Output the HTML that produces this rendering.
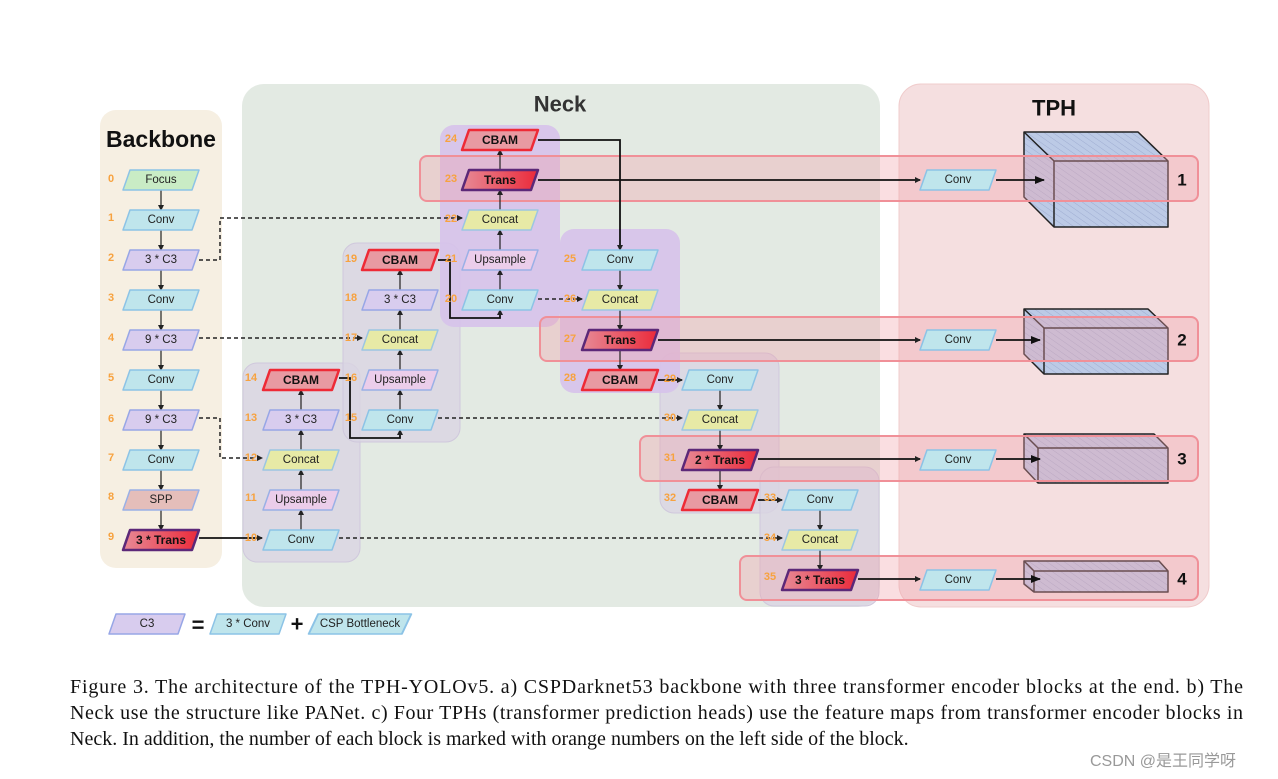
<!DOCTYPE html>
<html><head><meta charset="utf-8"><style>
html,body{margin:0;padding:0;background:#fff;width:1278px;height:779px;overflow:hidden}
svg{position:absolute;left:0;top:0}
.conv{fill:#bfe5ec;stroke:#8cc3e6;stroke-width:1.5}
.c3{fill:#d8ccee;stroke:#97a6e6;stroke-width:1.5}
.cat{fill:#e7eaa6;stroke:#9cc6e2;stroke-width:1.5}
.up{fill:#ebcdea;stroke:#9ab0e6;stroke-width:1.5}
.foc{fill:#c9ecc5;stroke:#8cc3e6;stroke-width:1.5}
.spp{fill:#e5beba;stroke:#9ab0e6;stroke-width:1.5}
.cb{fill:#e89aa2;stroke:#ee2a36;stroke-width:2.5}
.tr{fill:url(#tg);stroke:#5c2878;stroke-width:2.5}
text{font-family:"Liberation Sans",sans-serif}
.t{font-size:11.5px;fill:#222;text-anchor:middle;dominant-baseline:central}
.tb{font-size:12px;font-weight:bold;fill:#111;text-anchor:middle;dominant-baseline:central}
.n{font-size:11px;font-weight:bold;fill:#f7a23f;text-anchor:middle;dominant-baseline:central}
.ln{stroke:#222;stroke-width:1.2;fill:none}
.lt{stroke:#111;stroke-width:1.8;fill:none}
.ds{stroke:#222;stroke-width:1.5;fill:none;stroke-dasharray:4 3}
.cap{font-family:"Liberation Serif",serif;font-size:20px;fill:#111}
</style></head><body>
<svg width="1278" height="779" viewBox="0 0 1278 779">
<defs>
<polygon id="p" points="-31,-10 38,-10 31,10 -38,10" stroke-linejoin="round"/>
<linearGradient id="tg" x1="0" x2="1"><stop offset="0" stop-color="#e88a96"/><stop offset="1" stop-color="#ea2a3a"/></linearGradient>
<marker id="a" markerWidth="6" markerHeight="6" refX="5" refY="3" orient="auto" markerUnits="userSpaceOnUse"><path d="M0,0 L6,3 L0,6 z" fill="#222"/></marker>
<marker id="A" markerWidth="10" markerHeight="10" refX="9" refY="5" orient="auto" markerUnits="userSpaceOnUse"><path d="M0,1 L10,5 L0,9 z" fill="#111"/></marker>
<pattern id="h" width="5" height="5" patternUnits="userSpaceOnUse" patternTransform="rotate(-55)"><rect width="5" height="5" fill="#bccae6"/><line x1="0" y1="0" x2="0" y2="5" stroke="#98a6cc" stroke-width="0.8"/></pattern>
</defs>
<rect x="100" y="110" width="122" height="458" rx="16" fill="#f6efe2"/>
<rect x="242" y="84" width="638" height="523" rx="22" fill="#e3eae3"/>
<rect x="899" y="84" width="310" height="523" rx="22" fill="#f5dfe0" stroke="#f0cccc"/>
<text x="161" y="139" font-size="23" font-weight="bold" text-anchor="middle" dominant-baseline="central" fill="#111">Backbone</text>
<text x="560" y="104" font-size="22" font-weight="bold" text-anchor="middle" dominant-baseline="central" fill="#333">Neck</text>
<text x="1054" y="108" font-size="22" font-weight="bold" text-anchor="middle" dominant-baseline="central" fill="#111">TPH</text>
<rect x="243" y="363" width="117" height="199" rx="14" fill="#d9d5e2" fill-opacity="0.8" stroke="#cfc8dc"/>
<rect x="343" y="243" width="117" height="199" rx="14" fill="#d9d5e2" fill-opacity="0.8" stroke="#cfc8dc"/>
<rect x="660" y="353" width="119" height="160" rx="14" fill="#d9d5e2" fill-opacity="0.8" stroke="#cfc8dc"/>
<rect x="760" y="467" width="119" height="139" rx="14" fill="#d9d5e2" fill-opacity="0.8" stroke="#cfc8dc"/>
<rect x="440" y="125" width="120" height="202" rx="14" fill="#d6c2ea" fill-opacity="0.9"/>
<rect x="560" y="229" width="120" height="164" rx="14" fill="#d6c2ea" fill-opacity="0.9"/>
<g stroke="#222" stroke-width="1.5" fill="url(#h)" stroke-linejoin="round">
<polygon points="1024,132 1138,132 1168,161 1168,227 1054,227 1024,197"/>
<polyline points="1024,132 1054,161 1168,161" fill="none"/><line x1="1054" y1="161" x2="1054" y2="227"/>
<polygon points="1024,309 1148,309 1168,328 1168,374 1044,374 1024,354"/>
<polyline points="1024,309 1044,328 1168,328" fill="none"/><line x1="1044" y1="328" x2="1044" y2="374"/>
<polygon points="1024,434 1154,434 1168,448 1168,483 1038,483 1024,468"/>
<polyline points="1024,434 1038,448 1168,448" fill="none"/><line x1="1038" y1="448" x2="1038" y2="483"/>
<polygon points="1024,561 1159,561 1168,571 1168,592 1034,592 1024,584"/>
<polyline points="1024,561 1034,571 1168,571" fill="none"/><line x1="1034" y1="571" x2="1034" y2="592"/>
</g>
<g fill="#f2a0a8" fill-opacity="0.35" stroke="#f09098" stroke-width="2">
<rect x="420" y="156" width="778" height="45" rx="7"/>
<rect x="540" y="317" width="658" height="44" rx="7"/>
<rect x="640" y="436" width="558" height="45" rx="7"/>
<rect x="740" y="556" width="458" height="44" rx="7"/>
</g>
<g font-size="17" font-weight="bold" fill="#111" text-anchor="middle" dominant-baseline="central">
<text x="1182" y="180">1</text><text x="1182" y="340">2</text><text x="1182" y="459">3</text><text x="1182" y="579">4</text></g>
<g class="ln" marker-end="url(#a)">
<line x1="161" y1="190" x2="161" y2="210"/><line x1="161" y1="230" x2="161" y2="250"/><line x1="161" y1="270" x2="161" y2="290"/><line x1="161" y1="310" x2="161" y2="330"/><line x1="161" y1="350" x2="161" y2="370"/><line x1="161" y1="390" x2="161" y2="410"/><line x1="161" y1="430" x2="161" y2="450"/><line x1="161" y1="470" x2="161" y2="490"/><line x1="161" y1="510" x2="161" y2="530"/>
<line x1="301" y1="530" x2="301" y2="510"/><line x1="301" y1="490" x2="301" y2="470"/><line x1="301" y1="450" x2="301" y2="430"/><line x1="301" y1="410" x2="301" y2="390"/>
<line x1="400" y1="410" x2="400" y2="390"/><line x1="400" y1="370" x2="400" y2="350"/><line x1="400" y1="330" x2="400" y2="310"/><line x1="400" y1="290" x2="400" y2="270"/>
<line x1="500" y1="290" x2="500" y2="270"/><line x1="500" y1="250" x2="500" y2="230"/><line x1="500" y1="210" x2="500" y2="190"/><line x1="500" y1="170" x2="500" y2="150"/>
<line x1="620" y1="270" x2="620" y2="290"/><line x1="620" y1="310" x2="620" y2="330"/><line x1="620" y1="350" x2="620" y2="370"/>
<line x1="720" y1="390" x2="720" y2="410"/><line x1="720" y1="430" x2="720" y2="450"/><line x1="720" y1="470" x2="720" y2="490"/>
<line x1="820" y1="510" x2="820" y2="530"/><line x1="820" y1="550" x2="820" y2="570"/>
</g>
<g class="lt" marker-end="url(#a)">
<polyline points="339,378 350,378 350,438 400,438 400,430"/>
<polyline points="438,260 450,260 450,318 500,318 500,310"/>
<polyline points="538,140 620,140 620,250"/>
<line x1="658" y1="380" x2="682" y2="380"/>
<line x1="758" y1="500" x2="782" y2="500"/>
<line x1="199" y1="538" x2="262" y2="538"/>
<line x1="538" y1="180" x2="920" y2="180"/>
<line x1="658" y1="340" x2="920" y2="340"/>
<line x1="758" y1="459" x2="920" y2="459"/>
<line x1="858" y1="579" x2="920" y2="579"/>
</g>
<g class="lt" stroke-width="2.5" marker-end="url(#A)">
<line x1="996" y1="180" x2="1044" y2="180"/><line x1="996" y1="340" x2="1040" y2="340"/><line x1="996" y1="459" x2="1040" y2="459"/><line x1="996" y1="579" x2="1040" y2="579"/>
</g>
<g class="ds" marker-end="url(#a)">
<polyline points="199,260 220,260 220,218 462,218"/>
<line x1="199" y1="338" x2="362" y2="338"/>
<polyline points="199,418 220,418 220,458 262,458"/>
<line x1="538" y1="299" x2="582" y2="299"/>
<line x1="438" y1="418" x2="682" y2="418"/>
<line x1="339" y1="538" x2="782" y2="538"/>
</g>
<g>
<g transform="translate(161,180)"><use href="#p" class="foc"/><text class="t">Focus</text></g>
<g transform="translate(161,220)"><use href="#p" class="conv"/><text class="t">Conv</text></g>
<g transform="translate(161,260)"><use href="#p" class="c3"/><text class="t">3 * C3</text></g>
<g transform="translate(161,300)"><use href="#p" class="conv"/><text class="t">Conv</text></g>
<g transform="translate(161,340)"><use href="#p" class="c3"/><text class="t">9 * C3</text></g>
<g transform="translate(161,380)"><use href="#p" class="conv"/><text class="t">Conv</text></g>
<g transform="translate(161,420)"><use href="#p" class="c3"/><text class="t">9 * C3</text></g>
<g transform="translate(161,460)"><use href="#p" class="conv"/><text class="t">Conv</text></g>
<g transform="translate(161,500)"><use href="#p" class="spp"/><text class="t">SPP</text></g>
<g transform="translate(161,540)"><use href="#p" class="tr"/><text class="tb">3 * Trans</text></g>
<g transform="translate(301,540)"><use href="#p" class="conv"/><text class="t">Conv</text></g>
<g transform="translate(301,500)"><use href="#p" class="up"/><text class="t">Upsample</text></g>
<g transform="translate(301,460)"><use href="#p" class="cat"/><text class="t">Concat</text></g>
<g transform="translate(301,420)"><use href="#p" class="c3"/><text class="t">3 * C3</text></g>
<g transform="translate(301,380)"><use href="#p" class="cb"/><text class="tb">CBAM</text></g>
<g transform="translate(400,420)"><use href="#p" class="conv"/><text class="t">Conv</text></g>
<g transform="translate(400,380)"><use href="#p" class="up"/><text class="t">Upsample</text></g>
<g transform="translate(400,340)"><use href="#p" class="cat"/><text class="t">Concat</text></g>
<g transform="translate(400,300)"><use href="#p" class="c3"/><text class="t">3 * C3</text></g>
<g transform="translate(400,260)"><use href="#p" class="cb"/><text class="tb">CBAM</text></g>
<g transform="translate(500,300)"><use href="#p" class="conv"/><text class="t">Conv</text></g>
<g transform="translate(500,260)"><use href="#p" class="up"/><text class="t">Upsample</text></g>
<g transform="translate(500,220)"><use href="#p" class="cat"/><text class="t">Concat</text></g>
<g transform="translate(500,180)"><use href="#p" class="tr"/><text class="tb">Trans</text></g>
<g transform="translate(500,140)"><use href="#p" class="cb"/><text class="tb">CBAM</text></g>
<g transform="translate(620,260)"><use href="#p" class="conv"/><text class="t">Conv</text></g>
<g transform="translate(620,300)"><use href="#p" class="cat"/><text class="t">Concat</text></g>
<g transform="translate(620,340)"><use href="#p" class="tr"/><text class="tb">Trans</text></g>
<g transform="translate(620,380)"><use href="#p" class="cb"/><text class="tb">CBAM</text></g>
<g transform="translate(720,380)"><use href="#p" class="conv"/><text class="t">Conv</text></g>
<g transform="translate(720,420)"><use href="#p" class="cat"/><text class="t">Concat</text></g>
<g transform="translate(720,460)"><use href="#p" class="tr"/><text class="tb">2 * Trans</text></g>
<g transform="translate(720,500)"><use href="#p" class="cb"/><text class="tb">CBAM</text></g>
<g transform="translate(820,500)"><use href="#p" class="conv"/><text class="t">Conv</text></g>
<g transform="translate(820,540)"><use href="#p" class="cat"/><text class="t">Concat</text></g>
<g transform="translate(820,580)"><use href="#p" class="tr"/><text class="tb">3 * Trans</text></g>
<g transform="translate(958,180)"><use href="#p" class="conv"/><text class="t">Conv</text></g>
<g transform="translate(958,340)"><use href="#p" class="conv"/><text class="t">Conv</text></g>
<g transform="translate(958,460)"><use href="#p" class="conv"/><text class="t">Conv</text></g>
<g transform="translate(958,580)"><use href="#p" class="conv"/><text class="t">Conv</text></g>
</g>
<g class="n">
<text x="111" y="179">0</text><text x="111" y="218">1</text><text x="111" y="258">2</text><text x="111" y="298">3</text><text x="111" y="338">4</text><text x="111" y="378">5</text><text x="111" y="419">6</text><text x="111" y="458">7</text><text x="111" y="497">8</text><text x="111" y="537">9</text>
<text x="251" y="538">10</text><text x="251" y="498">11</text><text x="251" y="458">12</text><text x="251" y="418">13</text><text x="251" y="378">14</text>
<text x="351" y="418">15</text><text x="351" y="378">16</text><text x="351" y="338">17</text><text x="351" y="298">18</text><text x="351" y="259">19</text>
<text x="451" y="299">20</text><text x="451" y="259">21</text><text x="451" y="219">22</text><text x="451" y="179">23</text><text x="451" y="139">24</text>
<text x="570" y="259">25</text><text x="570" y="299">26</text><text x="570" y="339">27</text><text x="570" y="378">28</text>
<text x="670" y="379">29</text><text x="670" y="418">30</text><text x="670" y="458">31</text><text x="670" y="498">32</text>
<text x="770" y="498">33</text><text x="770" y="538">34</text><text x="770" y="577">35</text>
</g>
<g transform="translate(147,624)"><use href="#p" class="c3"/><text class="t">C3</text></g>
<text x="198" y="625" font-size="22" font-weight="bold" text-anchor="middle" dominant-baseline="central" fill="#111">=</text>
<g transform="translate(248,624)"><use href="#p" class="conv"/><text class="t">3 * Conv</text></g>
<text x="297" y="624" font-size="22" font-weight="bold" text-anchor="middle" dominant-baseline="central" fill="#111">+</text>
<g transform="translate(360,624) scale(1.35,1)"><use href="#p" class="conv"/></g>
<text x="360" y="624" class="t">CSP Bottleneck</text>
<text class="cap" x="70" y="693" textLength="1173" lengthAdjust="spacing">Figure 3. The architecture of the TPH-YOLOv5.  a) CSPDarknet53 backbone with three transformer encoder blocks at the end.  b) The</text>
<text class="cap" x="70" y="719" textLength="1173" lengthAdjust="spacing">Neck use the structure like PANet.  c) Four TPHs (transformer prediction heads) use the feature maps from transformer encoder blocks in</text>
<text class="cap" x="70" y="745">Neck. In addition, the number of each block is marked with orange numbers on the left side of the block.</text>
<text x="1090" y="766" font-size="16" fill="#999" font-family="Liberation Sans, Noto Sans CJK SC, sans-serif">CSDN @是王同学呀</text>
</svg>
</body></html>
